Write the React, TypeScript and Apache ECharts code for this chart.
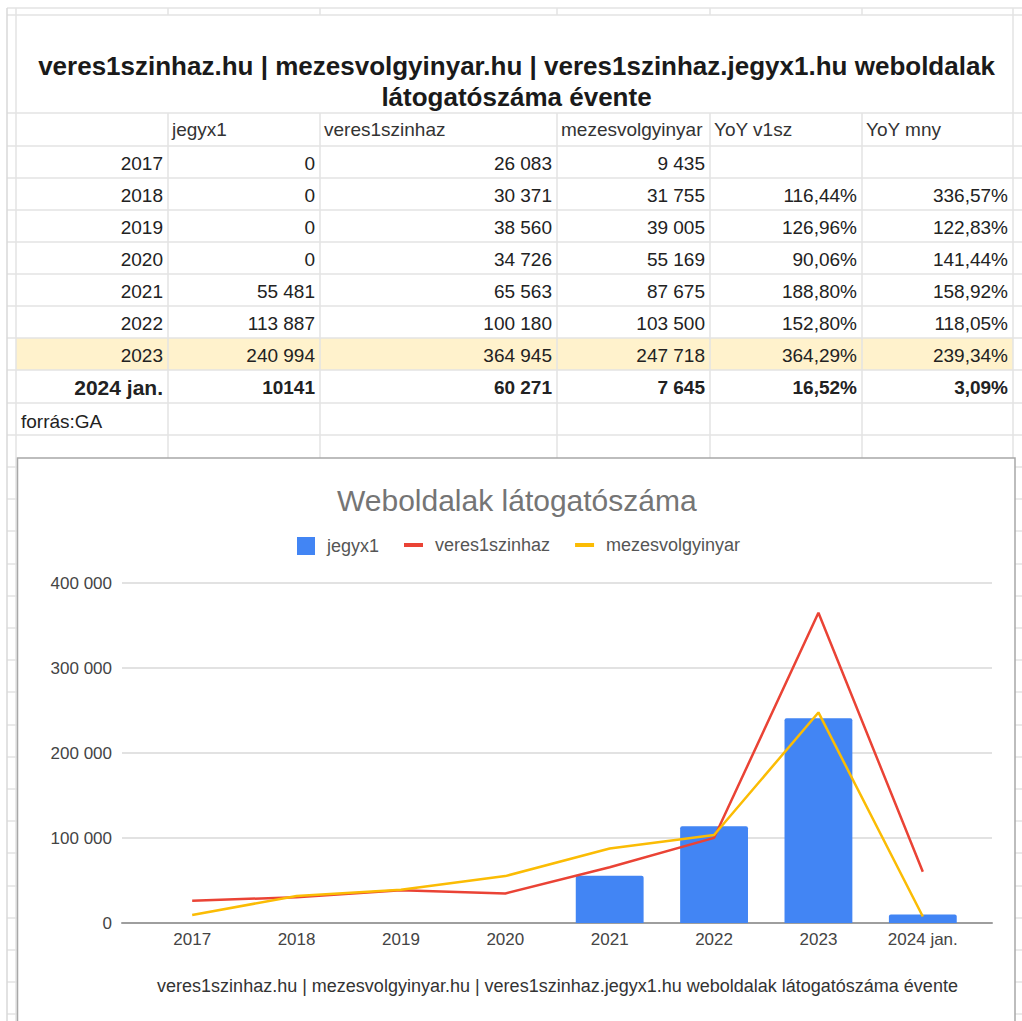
import React, { useEffect, useRef } from "react";
import * as echarts from "echarts";

const FONT = '"Liberation Sans", Arial, sans-serif';

// ---- data ----
const categories = ["2017", "2018", "2019", "2020", "2021", "2022", "2023", "2024 jan."];
const jegyx1 = [0, 0, 0, 0, 55481, 113887, 240994, 10141];
const veres1szinhaz = [26083, 30371, 38560, 34726, 65563, 100180, 364945, 60271];
const mezesvolgyinyar = [9435, 31755, 39005, 55169, 87675, 103500, 247718, 7645];
const yoyV1sz = ["", "116,44%", "126,96%", "90,06%", "188,80%", "152,80%", "364,29%", "16,52%"];
const yoyMny = ["", "336,57%", "122,83%", "141,44%", "158,92%", "118,05%", "239,34%", "3,09%"];
const headers = ["jegyx1", "veres1szinhaz", "mezesvolgyinyar", "YoY v1sz", "YoY mny"];
const sheetTitle = "veres1szinhaz.hu | mezesvolgyinyar.hu | veres1szinhaz.jegyx1.hu weboldalak\nlátogatószáma évente";
const chartTitle = "Weboldalak látogatószáma";
const axisTitle = "veres1szinhaz.hu | mezesvolgyinyar.hu | veres1szinhaz.jegyx1.hu weboldalak látogatószáma évente";
const sourceNote = "forrás:GA";
const yMax = 400000;
const yStep = 100000;

const fmt = (v: number) => String(v).replace(/\B(?=(\d{3})+(?!\d))/g, " ");

// ---- sheet layout ----
const colX = [16, 168, 320, 557, 710, 862, 1013];
const rowTops = [146, 178, 210, 242, 274, 306, 338, 370, 403];
const headerTop = 113;
const highlightRow = 6;
const boldRow = 7;

function buildGraphic() {
  const els: any[] = [];
  // highlight row
  els.push({
    type: "rect",
    z: 0,
    silent: true,
    shape: { x: colX[0], y: rowTops[highlightRow], width: colX[6] - colX[0], height: rowTops[highlightRow + 1] - rowTops[highlightRow] },
    style: { fill: "#fff2cc" },
  });
  // horizontal sheet lines
  const hLines = [8, 15, headerTop, ...rowTops, 435];
  for (let y = 467; y < 1021; y += 32.2) hLines.push(Math.round(y));
  hLines.forEach((y) =>
    els.push({
      type: "line",
      z: 0,
      silent: true,
      shape: { x1: 7, y1: y, x2: 1022, y2: y },
      style: { stroke: "#e3e3e3", lineWidth: 1.5 },
    })
  );
  // vertical sheet lines
  els.push({ type: "line", z: 0, silent: true, shape: { x1: 7, y1: 8, x2: 7, y2: 1021 }, style: { stroke: "#d9d9d9", lineWidth: 1.5 } });
  colX.forEach((x, i) => {
    const edge = i === 0 || i === colX.length - 1;
    els.push({ type: "line", z: 0, silent: true, shape: { x1: x, y1: 8, x2: x, y2: edge ? 1021 : 15 }, style: { stroke: "#e3e3e3", lineWidth: 1.5 } });
    if (!edge)
      els.push({ type: "line", z: 0, silent: true, shape: { x1: x, y1: headerTop, x2: x, y2: 1021 }, style: { stroke: "#e3e3e3", lineWidth: 1.5 } });
  });
  // sheet title
  els.push({
    type: "text",
    z: 0,
    silent: true,
    x: (colX[0] + colX[6]) / 2 + 2,
    y: 81.5,
    style: { text: sheetTitle, fontSize: 26, fontWeight: "bold", fontFamily: FONT, fill: "#1a1a1a", align: "center", verticalAlign: "middle", lineHeight: 31 },
  });
  // headers
  headers.forEach((h, j) => {
    els.push({
      type: "text",
      z: 0,
      silent: true,
      x: colX[j + 1] + 4,
      y: (headerTop + rowTops[0]) / 2,
      style: { text: h, fontSize: 19, fontFamily: FONT, fill: "#333", align: "left", verticalAlign: "middle", width: colX[j + 2] - colX[j + 1] - 5, overflow: "truncate", ellipsis: "" },
    });
  });
  // data rows
  categories.forEach((cat, i) => {
    const bold = i === boldRow;
    const cy = (rowTops[i] + rowTops[i + 1]) / 2;
    const cells = [
      cat,
      bold ? String(jegyx1[i]) : fmt(jegyx1[i]),
      fmt(veres1szinhaz[i]),
      fmt(mezesvolgyinyar[i]),
      yoyV1sz[i],
      yoyMny[i],
    ];
    cells.forEach((t, j) => {
      if (!t) return;
      els.push({
        type: "text",
        z: 0,
        silent: true,
        x: colX[j + 1] - 5,
        y: cy + 1,
        style: {
          text: t,
          fontSize: bold && j === 0 ? 21 : 19,
          fontWeight: bold ? "bold" : "normal",
          fontFamily: FONT,
          fill: "#222",
          align: "right",
          verticalAlign: "middle",
        },
      });
    });
  });
  els.push({
    type: "text",
    z: 0,
    silent: true,
    x: 21,
    y: (rowTops[8] + 435) / 2 + 2,
    style: { text: sourceNote, fontSize: 19, fontFamily: FONT, fill: "#222", align: "left", verticalAlign: "middle" },
  });
  // chart box
  els.push({
    type: "rect",
    z: 1,
    silent: true,
    shape: { x: 17.5, y: 458, width: 997.5, height: 620 },
    style: { fill: "#ffffff", stroke: "#a8a8a8", lineWidth: 1.5 },
  });
  return els;
}

export default function App() {
  const ref = useRef<HTMLDivElement>(null);
  useEffect(() => {
    document.body.style.margin = "0";
    const chart = echarts.init(ref.current!, undefined, { renderer: "svg" });
    chart.setOption({
      animation: false,
      backgroundColor: "#ffffff",
      textStyle: { fontFamily: FONT },
      graphic: { elements: buildGraphic() },
      title: {
        text: chartTitle,
        left: 337,
        top: 485,
        padding: 0,
        textStyle: { fontSize: 30, fontWeight: "normal", color: "#757575", fontFamily: FONT },
      },
      legend: [
        {
          data: [{ name: "jegyx1", icon: "rect" }],
          left: 297,
          top: 537,
          padding: 0,
          itemWidth: 18,
          itemHeight: 18,
          textStyle: { fontSize: 18, color: "#555", fontFamily: FONT, padding: [0, 0, 0, 7] },
        },
        {
          data: [
            { name: "veres1szinhaz", icon: "rect" },
            { name: "mezesvolgyinyar", icon: "rect" },
          ],
          left: 404,
          top: 536,
          padding: 0,
          itemWidth: 19,
          itemHeight: 4,
          itemGap: 25,
          textStyle: { fontSize: 18, color: "#555", fontFamily: FONT, padding: [0, 0, 0, 7] },
        },
      ],
      grid: [
        { left: 140, right: 47, top: 583, bottom: 98 },
        { left: 122, right: 30, top: 583, bottom: 98 },
      ],
      xAxis: [
        {
          type: "category",
          gridIndex: 0,
          data: categories,
          z: 2,
          axisLine: { show: false },
          axisTick: { show: false },
          axisLabel: { fontSize: 17, color: "#444", margin: 8, fontFamily: FONT },
          name: axisTitle,
          nameLocation: "middle",
          nameGap: 54,
          nameTextStyle: { fontSize: 18, color: "#333", fontFamily: FONT },
        },
        {
          type: "value",
          gridIndex: 1,
          min: 0,
          max: 1,
          z: 2,
          axisLine: { show: true, lineStyle: { color: "#9e9e9e", width: 2 } },
          axisTick: { show: false },
          axisLabel: { show: false },
          splitLine: { show: false },
        },
      ],
      yAxis: [
        { type: "value", gridIndex: 0, min: 0, max: yMax, interval: yStep, show: false },
        {
          type: "value",
          gridIndex: 1,
          min: 0,
          max: yMax,
          interval: yStep,
          z: 2,
          axisLine: { show: false },
          axisTick: { show: false },
          splitLine: { lineStyle: { color: "#e2e2e2", width: 2 } },
          axisLabel: { fontSize: 17, color: "#444", margin: 10, fontFamily: FONT, formatter: (v: number) => fmt(v) },
        },
      ],
      series: [
        {
          type: "bar",
          name: "jegyx1",
          data: jegyx1,
          xAxisIndex: 0,
          yAxisIndex: 0,
          barWidth: "65%",
          z: 3,
          itemStyle: { color: "#4285f4", borderRadius: [2, 2, 0, 0] },
        },
        {
          type: "line",
          name: "veres1szinhaz",
          data: veres1szinhaz,
          xAxisIndex: 0,
          yAxisIndex: 0,
          symbol: "none",
          z: 4,
          lineStyle: { color: "#ea4335", width: 2.5 },
          itemStyle: { color: "#ea4335" },
        },
        {
          type: "line",
          name: "mezesvolgyinyar",
          data: mezesvolgyinyar,
          xAxisIndex: 0,
          yAxisIndex: 0,
          symbol: "none",
          z: 5,
          lineStyle: { color: "#fbbc04", width: 2.5 },
          itemStyle: { color: "#fbbc04" },
        },
      ],
    });
    return () => chart.dispose();
  }, []);
  return <div ref={ref} style={{ position: "absolute", left: 0, top: 0, width: 1022, height: 1021 }} />;
}
